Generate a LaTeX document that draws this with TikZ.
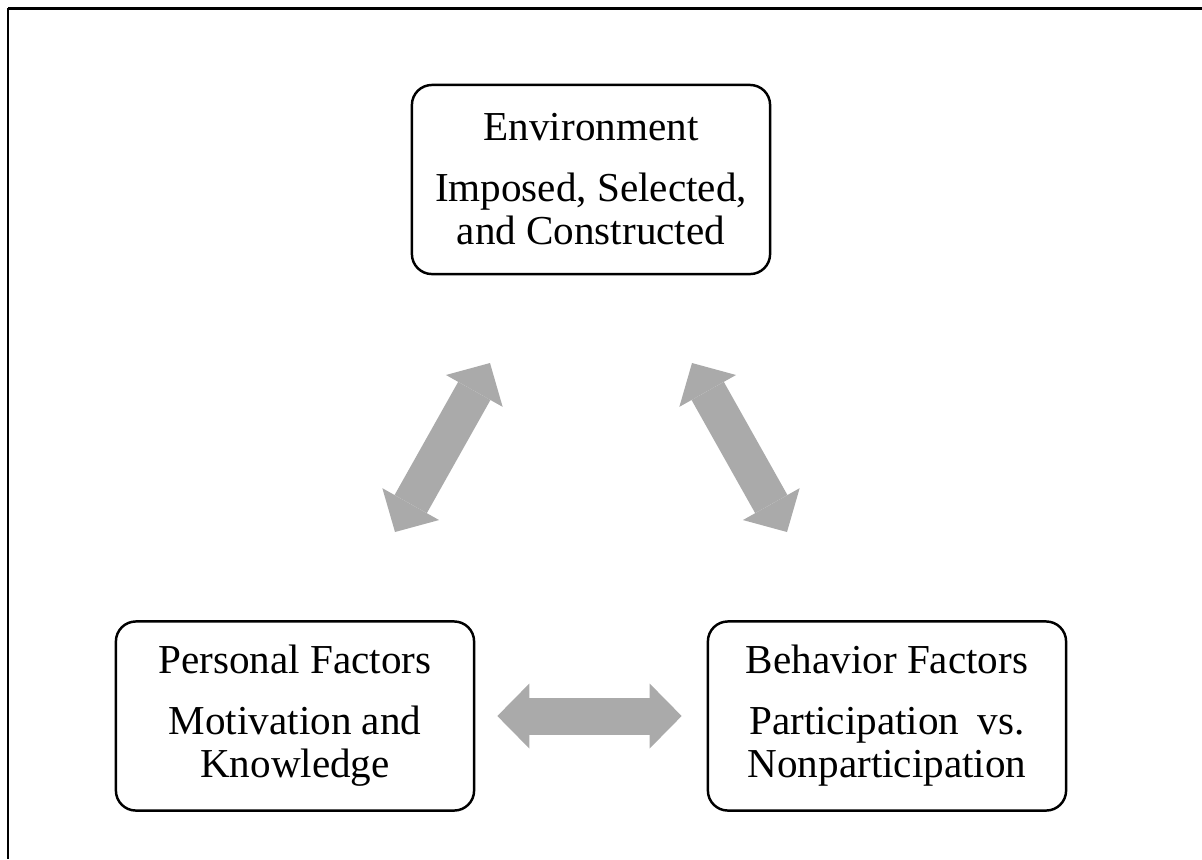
\documentclass[tikz,border=0pt]{standalone}
\usepackage{fontspec}
\setmainfont{Liberation Serif}
\usetikzlibrary{arrows.meta}
\definecolor{arrowgray}{RGB}{170,170,170}
\tikzset{
  factorbox/.style={draw, line width=0.7pt, rounded corners=0.2cm, minimum width=3.58cm, minimum height=1.89cm, align=center, inner sep=0pt, font=\fontsize{11.7}{12.3}\selectfont},
  twoway/.style={draw=arrowgray, line width=0.37cm, {Triangle[width=0.65cm, length=0.32cm, line width=0pt]}-{Triangle[width=0.65cm, length=0.32cm, line width=0pt]}}
}
\begin{document}
\begin{tikzpicture}[x=0.01cm, y=-0.01cm]
        \useasboundingbox (0,0) rectangle (1202,859);
        \draw[line width=0.03cm] (1202,8) -- (8,8); \draw[line width=0.02cm] (8,8) -- (8,859);
        \node[factorbox] (environment) at (591,179.5) {Environment\\[5pt] Imposed, Selected,\\ and Constructed};
        \node[factorbox] (personal) at (295,716) {Personal Factors\\[5pt] Motivation and\\ Knowledge};
        \node[factorbox] (behavior) at (887,716) {Behavior Factors\\[5pt] Participation\hspace{0.45em}vs.\\ Nonparticipation};
        \coordinate (pe1) at (395,532); \coordinate (pe2) at (490,363);
        \coordinate (eb1) at (692,363); \coordinate (eb2) at (787,532);
        \draw[twoway] (pe1) -- (pe2); \draw[twoway] (eb1) -- (eb2);
        \draw[twoway, shorten <=0.22cm, shorten >=0.25cm] (personal) -- (behavior);
    \end{tikzpicture}
\end{document}
